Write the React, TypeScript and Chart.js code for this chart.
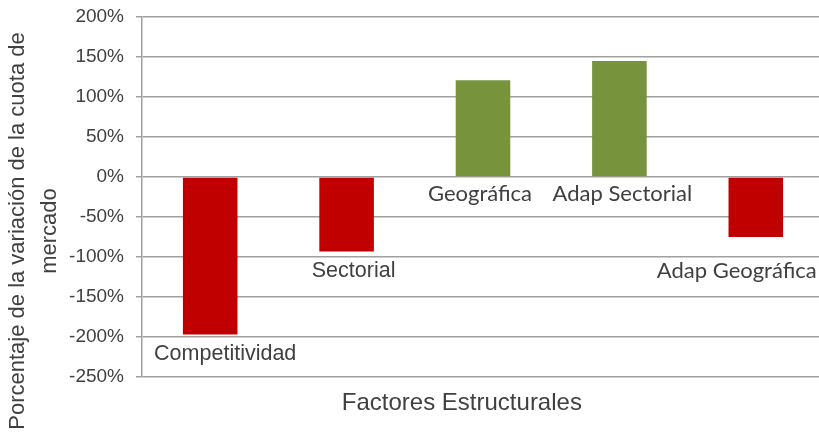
import React, { useEffect, useRef } from 'react';
import { Chart, registerables } from 'chart.js';

Chart.register(...registerables);

const categories = ['Competitividad', 'Sectorial', 'Geográfica', 'Adap Sectorial', 'Adap Geográfica'];
const values = [-197, -93, 121, 145, -75];
const barColors = ['#c00000', '#c00000', '#77933c', '#77933c', '#c00000'];
const yMin = -250;
const yMax = 200;
const yStep = 50;
const yTitleLines = ['Porcentaje de la variación de la cuota de', 'mercado'];
const xTitle = 'Factores Estructurales';

// label styling (not data)
const labelFontFamily = ['Liberation Sans', 'Liberation Sans', 'Lato', 'Lato', 'Lato'];
const labelNudge: [number, number][] = [[15, 0], [7, 1], [-3, 0], [3, 0], [-19, 16]];

const textColor = '#404040';

const labelsPlugin = {
  id: 'customLabels',
  afterDatasetsDraw(chart: any) {
    const ctx = chart.ctx;
    const meta = chart.getDatasetMeta(0);
    ctx.save();
    ctx.fillStyle = textColor;
    ctx.textAlign = 'center';
    ctx.textBaseline = 'alphabetic';
    meta.data.forEach((el: any, i: number) => {
      const low = Math.max(el.base, el.y);
      const fam = labelFontFamily[i];
      ctx.font = (fam === 'Lato' ? '22px ' : '21.5px ') + '"' + fam + '"';
      ctx.fillText(categories[i], el.x + labelNudge[i][0], low + 25 + labelNudge[i][1]);
    });
    ctx.restore();
  },
  afterDraw(chart: any) {
    const ctx = chart.ctx;
    const area = chart.chartArea;
    ctx.save();
    ctx.fillStyle = textColor;
    ctx.textAlign = 'center';
    ctx.textBaseline = 'alphabetic';
    // x title
    ctx.font = '24px "Liberation Sans"';
    ctx.fillText(xTitle, area.left + area.width * 0.469, area.bottom + 33);
    // y title (two lines)
    ctx.font = '22px "Liberation Sans"';
    const ycenters = [area.top + 214, area.top + 214];
    const xbases = [24, 56];
    yTitleLines.forEach((line, i) => {
      ctx.save();
      ctx.translate(xbases[i], ycenters[i]);
      ctx.rotate(-Math.PI / 2);
      ctx.fillText(line, 0, 0);
      ctx.restore();
    });
    ctx.restore();
  },
};

export default function App() {
  const ref = useRef<HTMLCanvasElement>(null);
  useEffect(() => {
    if (!ref.current) return;
    const chart = new Chart(ref.current, {
      type: 'bar',
      data: {
        labels: categories,
        datasets: [
          {
            data: values,
            backgroundColor: barColors,
            borderWidth: 0,
            barPercentage: 0.4,
            categoryPercentage: 1,
          },
        ],
      },
      options: {
        responsive: false,
        animation: false,
        layout: { padding: { top: 17, bottom: 57, left: 0, right: 0 } },
        plugins: { legend: { display: false }, tooltip: { enabled: false }, title: { display: false } },
        scales: {
          x: { display: false, offset: true },
          y: {
            min: yMin,
            max: yMax,
            ticks: {
              stepSize: yStep,
              padding: 12,
              color: textColor,
              font: { family: 'Liberation Sans', size: 19 },
              callback: (v: any) => v + '%',
            },
            grid: { color: '#a0a0a0', lineWidth: 1.5, tickLength: 6, drawTicks: true },
            border: { color: '#a0a0a0', width: 1.5 },
            afterFit: (scale: any) => {
              scale.width = 142;
              scale.paddingTop = 0;
              scale.paddingBottom = 0;
            },
          },
        },
      },
      plugins: [labelsPlugin],
    });
    return () => chart.destroy();
  }, []);
  return (
    <div style={{ position: 'fixed', left: 0, top: 0, width: 819, height: 434, overflow: 'hidden', background: '#fff' }}>
      <canvas ref={ref} width={824} height={434} style={{ display: 'block' }} />
    </div>
  );
}
